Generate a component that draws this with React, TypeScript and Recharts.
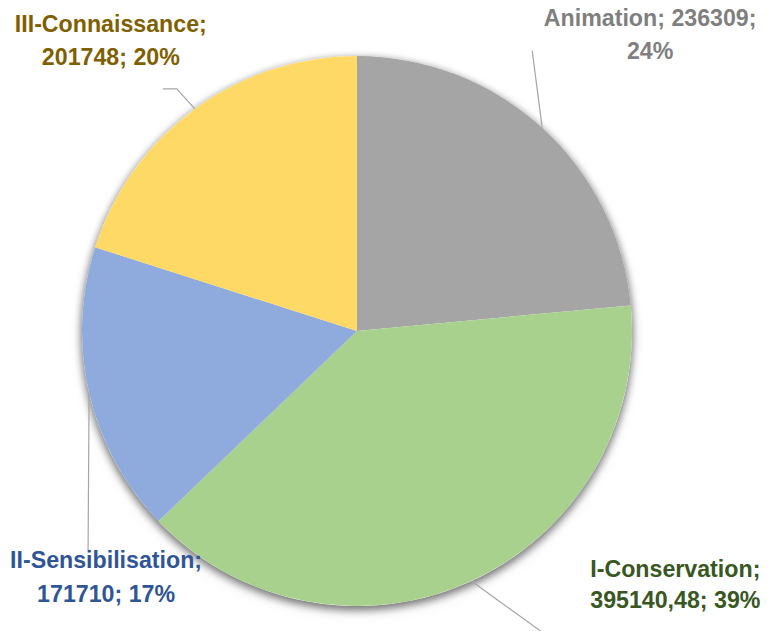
import { PieChart, Pie, Cell } from 'recharts'

const categories = ['Animation', 'I-Conservation', 'II-Sensibilisation', 'III-Connaissance']
const values = [236309, 395140.48, 171710, 201748]
const sliceColors = ['#A5A5A5', '#A9D18E', '#8FAADC', '#FFD966']
const labelColors = ['#7F7F7F', '#385723', '#2F5597', '#7F6000']

// leader bends and text spot, relative to the point on the rim
const labelLayout = [
    { line: [[-10, -77]], tx: 108, ty: [-102, -69] },
    { line: [[79, 57], [89, 57]], tx: 204, ty: [-4, 27] },
    { line: [[-1, 157]], tx: 17, ty: [175, 209] },
    { line: [[-18, -20], [-32, -20]], tx: -84, ty: [-77, -44] },
]

const data = categories.map((name, i) => ({ name, value: values[i] }))
const shadowData = [{ name: 'shadow', value: 1 }]

const RADIAN = Math.PI / 180

const renderLabel = (props: any) => {
    const { cx, cy, midAngle, outerRadius, index, value, percent } = props
    const ax = cx + outerRadius * Math.cos(-midAngle * RADIAN)
    const ay = cy + outerRadius * Math.sin(-midAngle * RADIAN)
    const lay = labelLayout[index]
    const pts = [[ax, ay], ...lay.line.map(([dx, dy]) => [ax + dx, ay + dy])]
    const x = ax + lay.tx
    const txt = String(value).replace('.', ',')
    return (
        <g key={'lbl' + index}>
            <polyline
                points={pts.map((p) => p.join(',')).join(' ')}
                fill="none"
                stroke="#A6A6A6"
                strokeWidth={1.2}
            />
            <text
                x={x}
                textAnchor="middle"
                fill={labelColors[index]}
                fontFamily="'Liberation Sans', Arial, sans-serif"
                fontWeight="bold"
                fontSize={23.2}
            >
                <tspan x={x} y={ay + lay.ty[0]}>
                    {categories[index]};{index === 0 ? ' ' + txt + ';' : ''}
                </tspan>
                <tspan x={x} y={ay + lay.ty[1]}>
                    {index === 0
                        ? Math.round(percent * 100) + '%'
                        : txt + '; ' + Math.round(percent * 100) + '%'}
                </tspan>
            </text>
        </g>
    )
}

export default function App() {
    return (
        <div style={{ position: 'absolute', left: 0, top: 0, background: '#fff' }}>
            <style>{'.pie-shadow{filter:drop-shadow(0 3px 4px rgba(0,0,0,0.35))}'}</style>
            <PieChart width={767} height={631} margin={{ top: 0, right: 0, bottom: 0, left: 0 }}>
                <Pie
                    data={shadowData}
                    dataKey="value"
                    cx={357}
                    cy={331}
                    outerRadius={275}
                    fill="#ffffff"
                    stroke="none"
                    className="pie-shadow"
                    isAnimationActive={false}
                />
                <Pie
                    data={data}
                    dataKey="value"
                    nameKey="name"
                    cx={357}
                    cy={331}
                    outerRadius={275}
                    startAngle={90}
                    endAngle={-270}
                    stroke="none"
                    label={renderLabel}
                    labelLine={false}
                    isAnimationActive={false}
                >
                    {data.map((d, i) => (
                        <Cell key={d.name} fill={sliceColors[i]} />
                    ))}
                </Pie>
            </PieChart>
        </div>
    )
}
